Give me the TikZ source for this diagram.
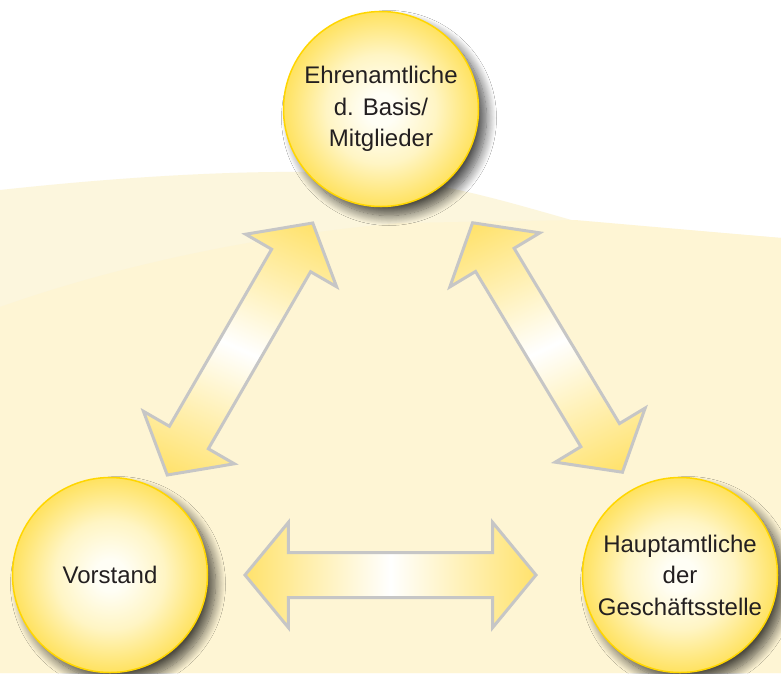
\documentclass[tikz,border=0pt]{standalone}
\usepackage{fontspec}
\setmainfont{Liberation Sans}
\usetikzlibrary{shapes.arrows,shadows.blur}

\definecolor{creamA}{RGB}{252,246,221}
\definecolor{creamB}{RGB}{254,245,212}
\definecolor{ballrim}{RGB}{255,214,0}
\definecolor{ballcore}{RGB}{255,254,245}
\definecolor{ballmid}{RGB}{255,245,196}
\definecolor{ballouter}{RGB}{255,226,96}
\definecolor{arrowfill}{RGB}{255,226,108}
\definecolor{arrowrim}{RGB}{198,198,198}
\definecolor{labeltext}{RGB}{35,31,32}

% soft glow from the centre of each ball towards its rim
\pgfdeclareradialshading{ballglow}{\pgfpoint{0bp}{0bp}}{%
  color(0bp)=(ballcore); color(4bp)=(ballcore); color(14bp)=(ballmid);
  color(25bp)=(ballouter); color(50bp)=(ballouter)}

% yellow at both tips, white in the middle; the tilted variant is
% compressed because a rotated shading is stretched over the bounding box
\pgfdeclarehorizontalshading{linkglow}{100bp}{%
  color(0bp)=(arrowfill); color(25bp)=(arrowfill); color(50bp)=(white);
  color(75bp)=(arrowfill); color(100bp)=(arrowfill)}
\pgfdeclarehorizontalshading{linkglowtilt}{100bp}{%
  color(0bp)=(arrowfill); color(19.5bp)=(arrowfill); color(50bp)=(white);
  color(80.5bp)=(arrowfill); color(100bp)=(arrowfill)}

\tikzset{
  ball/.style={circle, minimum size=195pt, inner sep=0pt,
    draw=ballrim, line width=1.5pt, shade, shading=ballglow,
    blur shadow={shadow xshift=8pt, shadow yshift=-9pt,
      shadow blur radius=10pt, shadow blur steps=14, shadow opacity=70},
    align=center, text=labeltext, font=\fontsize{24}{31.5}\selectfont},
  linkarrow/.style={double arrow, draw=arrowrim, line width=3pt,
    inner sep=0pt, text height=42pt, text depth=0pt,
    minimum height=291pt, double arrow head extend=30pt,
    double arrow tip angle=101, shade, shading=linkglow},
  tiltarrow/.style={linkarrow, shading=linkglowtilt, shading angle=#1}
}

\begin{document}
\begin{tikzpicture}[x=1pt, y=-1pt]
  \useasboundingbox (0,0) rectangle (781,673);
  \clip (0,0) rectangle (781,673);

  % paper and the two cream layers
  \fill[white] (0,0) rectangle (781,673);
  \fill[creamA] (0,190) .. controls (110,178) and (220,171) .. (310,172)
    .. controls (420,174) and (500,200) .. (575,221)
    -- (781,238) -- (781,673) -- (0,673) -- cycle;
  \fill[creamB] (0,307) .. controls (110,268) and (250,236) .. (400,223)
    -- (575,220) -- (781,238) -- (781,673) -- (0,673) -- cycle;

  % the three groups
  \node[ball] (basis) at (381,109) {Ehrenamtliche\\d. Basis/\\Mitglieder};
  \node[ball] (vorstand) at (110,575) {Vorstand};
  \node[ball] (haupt) at (680,575) {Hauptamtliche\\der\\Geschäftsstelle};

  % two-way links between them
  \node[tiltarrow=66.25, rotate=60] (linkBV) at (240,349) {};
  \node[tiltarrow=-64.9, rotate=-59] (linkBH) at (547.5,347.5) {};
  \node[linkarrow] (linkVH) at (390.5,575) {};
\end{tikzpicture}
\end{document}
